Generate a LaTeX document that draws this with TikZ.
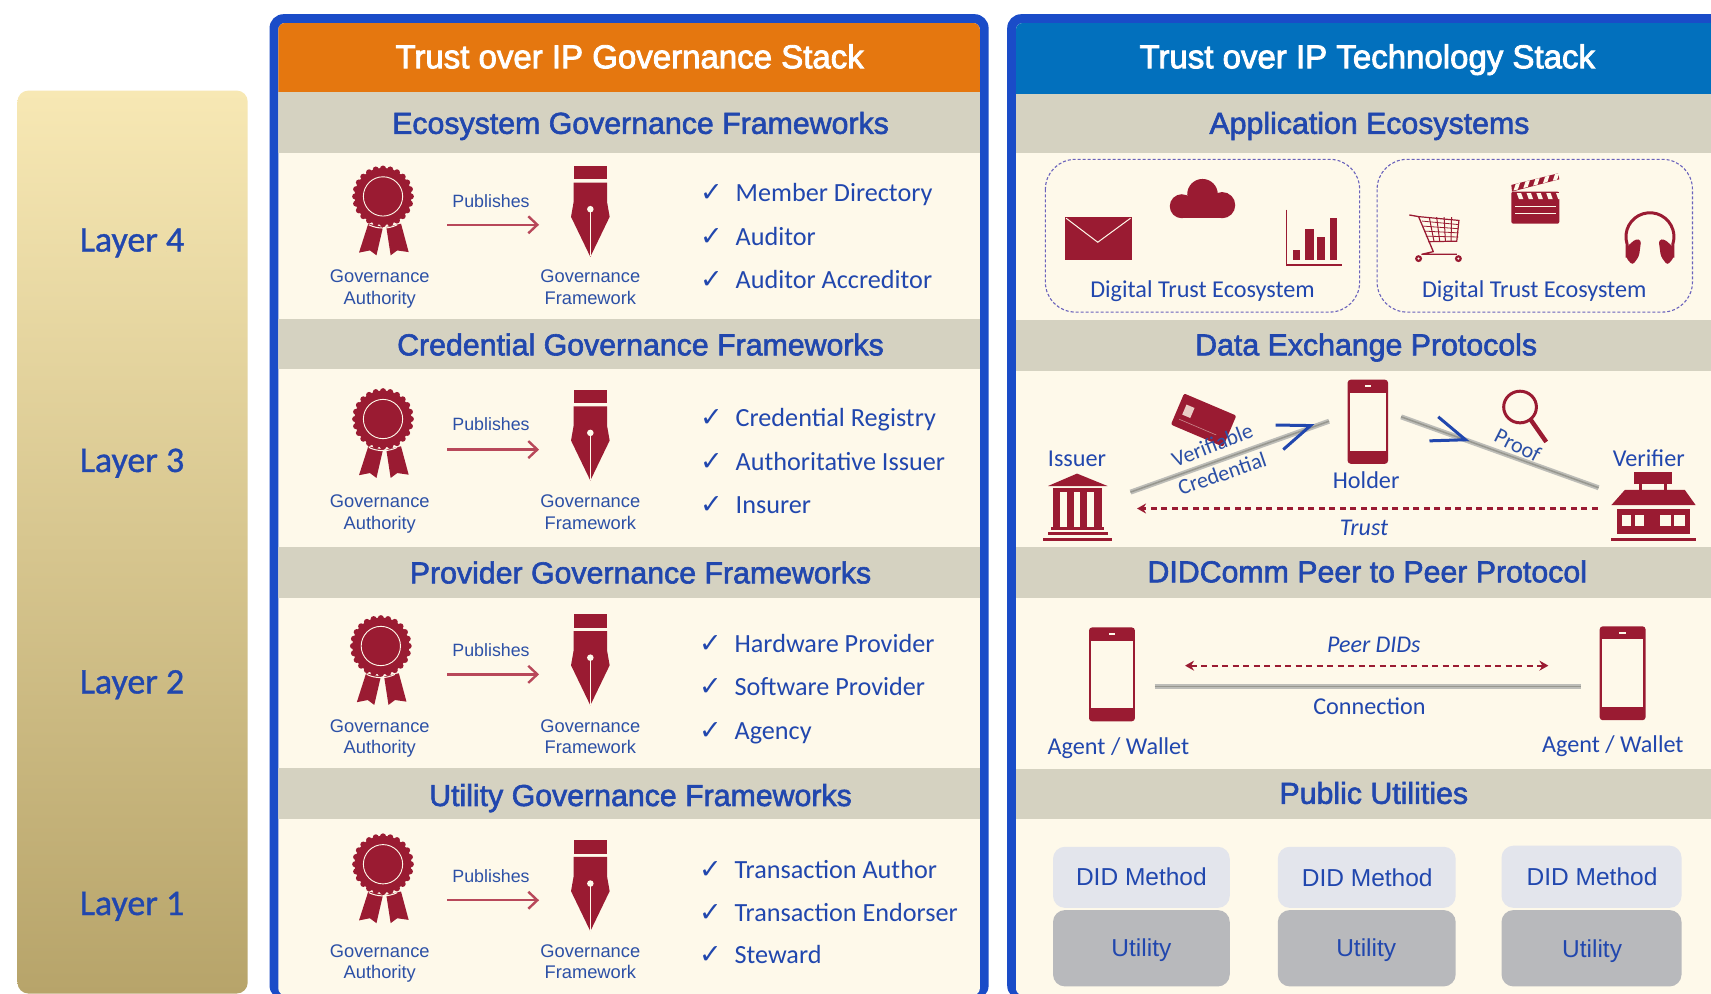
\documentclass[tikz,border=0pt]{standalone}
\usepackage{fontspec}
\setmainfont{Liberation Sans}
\newfontfamily\carl{Carlito}
\newfontfamily\carlb[FakeBold=1]{Carlito}
\newfontfamily\dejav{DejaVu Sans}
\newfontfamily\emb[FakeBold=2.6]{Liberation Sans}
\newfontfamily\embsec[FakeBold=2]{Liberation Sans}
\usetikzlibrary{arrows.meta}
\definecolor{brick}{HTML}{9A1B32}
\definecolor{pubred}{HTML}{B8485A}
\definecolor{inkblue}{HTML}{2147AE}
\definecolor{txtblue}{HTML}{2C50A6}
\definecolor{frameblue}{HTML}{1A4CC8}
\definecolor{bandgrey}{HTML}{D5D2C1}
\definecolor{creambg}{HTML}{FEF9EA}
\definecolor{orangehd}{HTML}{E5770F}
\definecolor{bluehd}{HTML}{0270BD}
\definecolor{didbox}{HTML}{E3E5EC}
\definecolor{utilbox}{HTML}{B8B9BC}
\definecolor{railgrey}{HTML}{BDBDB8}
\definecolor{raildark}{HTML}{97978F}
\definecolor{dashviolet}{HTML}{6A62BC}
\tikzset{
  titlehead/.style={text=white,font=\emb\fontsize{33}{36}\selectfont,inner sep=0pt,text height=23pt,text depth=0pt},
  sectitle/.style={text=inkblue,font=\embsec\fontsize{30.3}{32}\selectfont,inner sep=0pt,text height=21pt,text depth=0pt},
  sectband/.style={fill=bandgrey},
  lyrtxt/.style={text=inkblue,font=\carlb\fontsize{36}{38}\selectfont,inner sep=0pt,text height=23pt,text depth=0pt},
  itemtxt/.style={text=inkblue,font=\carl\fontsize{26.2}{30}\selectfont,inner sep=0pt,anchor=west,text height=17pt,text depth=0pt},
  chktxt/.style={text=inkblue,font=\dejav\fontsize{27}{28}\selectfont,inner sep=0pt},
  smalltxt/.style={text=txtblue,font=\fontsize{18.3}{21.4}\selectfont,inner sep=0pt,align=center},
  disclabel/.style={text=inkblue,font=\carl\fontsize{24.2}{28}\selectfont,inner sep=0pt,text height=16pt,text depth=0pt},
  tiltlabel/.style={text=txtblue,font=\carl\fontsize{22}{26}\selectfont,inner sep=0pt,text height=15pt,text depth=0pt},
  italabel/.style={text=inkblue,font=\carl\itshape\fontsize{24}{26}\selectfont,inner sep=0pt,text height=15pt,text depth=0pt},
  boxtxt/.style={text=inkblue,font=\fontsize{24.5}{28}\selectfont,inner sep=0pt,text height=17pt,text depth=0pt},
  ecobox/.style={draw=dashviolet,line width=1.1pt,dash pattern=on 3pt off 2pt,rounded corners=30pt},
  railline/.style={line width=5pt,draw=railgrey},
  raildk/.style={line width=1.5pt,draw=raildark},
  chev/.style={draw=inkblue,line width=3pt,miter limit=10},
  pubarrow/.style={draw=pubred,line width=2.4pt,-{Straight Barb[length=9pt,width=17pt,line width=2.4pt]}},
  dasharrow/.style={draw=brick,line width=2.2pt,dash pattern=on 6pt off 4.5pt},
}
\newcommand{\rosetteicon}[2]{%
  \begin{scope}[shift={(#1,#2)}]
    \fill[brick] (-13.5,25)--(0,28)--(-6,54)--(-12,49.5)--(-22,51.5)--cycle;
    \fill[brick] (3,28)--(16.5,25)--(23.5,51)--(13,49.5)--(7,54)--cycle;
    \foreach \a in {0,15,...,345}{\fill[brick] (\a:25.5) circle (2.8);}
    \fill[brick] (0,0) circle (26);
    \draw[creambg,line width=.9pt] (0,0) circle (18);
    \draw[creambg,line width=1pt] (-13,26) .. controls (-5,30) and (5,30) .. (13,26);
  \end{scope}}
\newcommand{\penicon}[2]{%
  \begin{scope}[shift={(#1,#2)}]
    \fill[brick] (-15.3,0) rectangle (15.3,12.2);
    \fill[brick] (-15.3,15.3)--(15.3,15.3)--(15.3,33)--(17.7,46.7)--(0,83.4)--(-17.7,46.7)--(-15.3,33)--cycle;
    \fill[creambg] (0,39.7) circle (3);
    \draw[creambg,line width=1pt] (0,39.7)--(0,83);
  \end{scope}}
% id, rosette x, rosette y, pen top, label y, publishes y, arrow y
\newcommand{\govrow}[7]{%
  \rosetteicon{#2}{#3}
  \penicon{541}{#4}
  \node[smalltxt] (#1auth) at (348,#5) {Governance\\Authority};
  \node[smalltxt] (#1fw) at (541,#5) {Governance\\Framework\vphantom{y}};
  \node[smalltxt,font=\fontsize{17.8}{20}\selectfont] (#1pub) at (450,#6) {Publishes};
  \coordinate (#1from) at (410,#7);
  \coordinate (#1to) at (494,#7);
  \draw[pubarrow] (#1from) -- (#1to);}
\newcommand{\chkitem}[5]{%
  \node[chktxt] (#1c) at (#2,#3) {✓};
  \node[itemtxt] (#1t) at (#4,#3) {#5};}
\newcommand{\phoneicon}[4]{%
  \fill[brick,rounded corners=3pt] (#1,#2) rectangle (#3,#4);
  \fill[creambg] ({#1+2},{#2+12}) rectangle ({#3-2},{#4-12});
  \fill[creambg] ({(#1+#3)/2-3},{#2+5}) rectangle ({(#1+#3)/2+3},{#2+7});}
\begin{document}
\begin{tikzpicture}[x=1.0912pt,y=-1.0912pt]
\useasboundingbox (0,0) rectangle (1568,910.9);
\fill[white] (0,0) rectangle (1568,910.9);
% layer column
\shade[rounded corners=11pt,top color={rgb,255:red,247;green,232;blue,180},bottom color={rgb,255:red,183;green,164;blue,106}] (16,83) rectangle (227,910.5);
\node[lyrtxt] (l4) at (121,220) {Layer 4};
\node[lyrtxt] (l3) at (121,422) {Layer 3};
\node[lyrtxt] (l2) at (121,625) {Layer 2};
\node[lyrtxt] (l1) at (121,828) {Layer 1};
% left panel
\fill[frameblue,rounded corners=14pt] (247,13) rectangle (906,916);
\begin{scope}
  \clip[rounded corners=7pt] (255,21) rectangle (898,912);
  \fill[creambg] (255,21) rectangle (898,912);
  \fill[orangehd] (255,21) rectangle (898,84);
  \fill[sectband] (255,84) rectangle (898,140);
  \fill[sectband] (255,292) rectangle (898,338);
  \fill[sectband] (255,501) rectangle (898,548);
  \fill[sectband] (255,704) rectangle (898,751);
\end{scope}
\node[titlehead] (lhead) at (577,52) {Trust over IP Governance Stack};
\node[sectitle] (s1) at (587,113) {Ecosystem Governance Frameworks};
\node[sectitle] (s2) at (587,316) {Credential Governance Frameworks};
\node[sectitle] (s3) at (587,525) {Provider Governance Frameworks};
\node[sectitle] (s4) at (587,729) {Utility Governance Frameworks};
\govrow{ra}{351}{180}{152}{265}{184}{206}
\govrow{rb}{351}{384}{357}{471}{389}{412}
\govrow{rc}{349}{592}{563}{677}{596}{618}
\govrow{rd}{351}{792}{770}{883}{803}{825}
\chkitem{a1}{652}{177}{674}{Member Directory}
\chkitem{a2}{652}{217}{674}{Auditor}
\chkitem{a3}{652}{257}{674}{Auditor Accreditor}
\chkitem{b1}{652}{383}{674}{Credential Registry}
\chkitem{b2}{652}{423}{674}{Authoritative Issuer}
\chkitem{b3}{652}{463}{674}{Insurer}
\chkitem{c1}{651}{590}{673}{Hardware Provider}
\chkitem{c2}{651}{629.5}{673}{Software Provider}
\chkitem{c3}{651}{670}{673}{Agency}
\chkitem{d1}{651}{797}{673}{Transaction Author}
\chkitem{d2}{651}{836.5}{673}{Transaction Endorser}
\chkitem{d3}{651}{875}{673}{Steward}
% right panel
\fill[frameblue,rounded corners=14pt] (923,13) rectangle (1600,916);
\begin{scope}
  \clip[rounded corners=7pt] (931,21) rectangle (1590,912);
  \fill[creambg] (931,21) rectangle (1590,912);
  \fill[bluehd] (931,21) rectangle (1590,86);
  \fill[sectband] (931,86) rectangle (1590,140);
  \fill[sectband] (931,293) rectangle (1590,340);
  \fill[sectband] (931,501) rectangle (1590,548);
  \fill[sectband] (931,705) rectangle (1590,751);
\end{scope}
\node[titlehead] (rhead) at (1253,52) {Trust over IP Technology Stack};
\node[sectitle] (t1) at (1255,113) {Application Ecosystems};
\node[sectitle] (t2) at (1252,316) {Data Exchange Protocols};
\node[sectitle] (t3) at (1253,524) {DIDComm Peer to Peer Protocol};
\node[sectitle] (t4) at (1259,727) {Public Utilities};
% ecosystems
\draw[ecobox] (958,146) rectangle (1246,286);
\draw[ecobox] (1262,146) rectangle (1551,286);
\node[disclabel] (e1) at (1102,265) {Digital Trust Ecosystem};
\node[disclabel] (e2) at (1406,265) {Digital Trust Ecosystem};
% envelope
\fill[brick] (976,199) rectangle (1037,238);
\draw[creambg,line width=1pt] (977,200)--(1006,222)--(1036,200);
% cloud
\fill[brick] (1102,178) circle (14);
\fill[brick] (1083,189) circle (11);
\fill[brick] (1120,188) circle (12);
\fill[brick] (1084,186) rectangle (1120,200);
% chart
\draw[brick,line width=1.6pt] (1179,192)--(1179,243)--(1230,243);
\fill[brick] (1185,229) rectangle (1191,238);
\fill[brick] (1196,210) rectangle (1204,238);
\fill[brick] (1207,217) rectangle (1214,238);
\fill[brick] (1219,200) rectangle (1225,238);
% cart
\draw[brick,line width=1.3pt,line join=round] (1291.5,197)--(1300,198.5)--(1313.5,230.6)--(1303,233)--(1335,233);
\draw[brick,line width=1.2pt] (1300,198.5)--(1337,202)--(1335,221)--(1309,221.5);
\foreach \t in {0.2,0.4,0.6,0.8}{
  \draw[brick,line width=1pt] ({1303+34*\t},199)--({1309+26*\t},221.5);
  \draw[brick,line width=.8pt] ({1302+6*\t},{198+23*\t})--(1336.5,{202+19*\t});}
\fill[brick] (1300,237) circle (3.2); \fill[creambg] (1300,237) circle (1.1);
\fill[brick] (1336.5,237) circle (3.2); \fill[creambg] (1336.5,237) circle (1.1);
% clapper
\fill[brick,rounded corners=2pt] (1385,175.6) rectangle (1429,205);
\fill[brick] (1385,169.5)--(1428,158.8)--(1429,164.3)--(1385.6,175.6)--cycle;
\foreach \d in {0,9,18,27,36}{
  \fill[creambg] ({1389+\d},{168.6-\d*.25})--({1393+\d},{167.6-\d*.25})--({1391+\d},{173.6-\d*.25})--({1387+\d},{174.6-\d*.25})--cycle;
  \fill[creambg] ({1390+\d},177)--({1394+\d},177)--({1396+\d},182.5)--({1392+\d},182.5)--cycle;}
\fill[creambg] (1388,188.4) rectangle (1426,189.4);
\fill[creambg] (1388,195) rectangle (1426,196);
% headphones
\draw[brick,line width=3pt] (1491,236)--(1491,223.4) arc[start angle=163,end angle=377,radius=22]--(1533,236);
\fill[brick,rounded corners=3pt] (1490,236)--(1491,226)--(1499,219)--(1504,220)--(1502,235)--(1496,243)--cycle;
\fill[brick,rounded corners=3pt] (1534,236)--(1533,226)--(1525,219)--(1520,220)--(1522,235)--(1528,243)--cycle;
% data exchange
\coordinate (vcA) at (1036,451); \coordinate (vcB) at (1218,386);
\coordinate (prA) at (1284,382); \coordinate (prB) at (1465,447);
\draw[railline] (vcA)--(vcB); \draw[raildk] (vcA)--(vcB);
\draw[railline] (prA)--(prB); \draw[raildk] (prA)--(prB);
\draw[chev] (1169,389.5)--(1201,390)--(1176,412);
\draw[chev] (1318,382)--(1343,403)--(1310,404);
% card
\begin{scope}[shift={(1103,385)},rotate=-23]
  \fill[brick,rounded corners=2pt] (-26,-15.5) rectangle (26,15.5);
  \fill[creambg!80!brick] (-20,-7) rectangle (-12,3);
  \draw[creambg!50!brick,line width=.6pt] (-21,8)--(16,8);
\end{scope}
\node[tiltlabel,rotate=21] (vc1) at (1111,408) {Verifiable};
\node[tiltlabel,rotate=19] (vc2) at (1120,434) {Credential};
\node[tiltlabel,rotate=-27] (proof) at (1391,408) {Proof};
% magnifier
\draw[brick,line width=3pt] (1393,373) ellipse (15 and 14.5);
\draw[brick,line width=4.4pt] (1403,385)--(1417,405);
\phoneicon{1235}{348}{1272}{425}
\node[disclabel] (holder) at (1252,440) {Holder};
\node[disclabel] (issuer) at (987,420) {Issuer};
\node[disclabel] (verifier) at (1511,420) {Verifier};
% bank
\fill[brick] (987,434)--(1015,445.4)--(960.4,445.4)--cycle;
\fill[brick] (965,447.5) rectangle (1010,450.5);
\foreach \c in {965,977.5,990,1003}{\fill[brick] (\c,450) rectangle ({\c+6.5},484);}
\fill[brick] (963,483) rectangle (1012,486);
\fill[brick] (960,487.5) rectangle (1015,490.5);
\fill[brick] (956,493) rectangle (1019,496);
% shop
\fill[brick] (1497,433) rectangle (1532,443.5);
\fill[brick] (1502,443) rectangle (1504.5,450);
\fill[brick] (1525,443) rectangle (1527.5,450);
\fill[brick] (1489,449)--(1544,449)--(1554,463)--(1476.6,463)--cycle;
\fill[brick] (1482,466) rectangle (1549,489);
\fill[creambg] (1486,472) rectangle (1495,482);
\fill[creambg] (1498,472) rectangle (1507,482);
\fill[creambg] (1521,472) rectangle (1531,482);
\fill[creambg] (1534,472) rectangle (1544,482);
\fill[brick] (1476,493) rectangle (1554,496);
% trust
\coordinate (trS) at (1464,466); \coordinate (trE) at (1042,466);
\draw[dasharrow,-{Stealth[length=9pt,width=10pt]}] (trS)--(trE);
\node[italabel] (trust) at (1250,484) {Trust};
% didcomm
\phoneicon{998}{575}{1040}{661}
\phoneicon{1466}{574}{1508}{660}
\node[disclabel] (ag1) at (1025,684) {Agent / Wallet};
\node[disclabel] (ag2) at (1478,682) {Agent / Wallet};
\coordinate (pdL) at (1086,610); \coordinate (pdR) at (1419,610);
\draw[dasharrow,{Stealth[length=9pt,width=10pt]}-{Stealth[length=9pt,width=10pt]}] (pdL)--(pdR);
\node[italabel] (peer) at (1259,591) {Peer DIDs};
\coordinate (cnL) at (1058,629); \coordinate (cnR) at (1449,629);
\draw[railline] (cnL)--(cnR); \draw[raildk] (cnL)--(cnR);
\node[disclabel] (conn) at (1255,647) {Connection};
% utilities
\fill[didbox,rounded corners=12pt] (965,776) rectangle (1127,832);
\fill[didbox,rounded corners=12pt] (1171,776) rectangle (1334,832);
\fill[didbox,rounded corners=12pt] (1376,775) rectangle (1541,832);
\fill[utilbox,rounded corners=12pt] (965,834) rectangle (1127,904);
\fill[utilbox,rounded corners=12pt] (1171,834) rectangle (1334,904);
\fill[utilbox,rounded corners=12pt] (1376,834) rectangle (1541,904);
\node[boxtxt] (d1) at (1046,804) {DID Method};
\node[boxtxt] (d2) at (1253,805) {DID Method};
\node[boxtxt] (d3) at (1459,804) {DID Method};
\node[boxtxt] (u1) at (1046,869) {Utility};
\node[boxtxt] (u2) at (1252,869) {Utility};
\node[boxtxt] (u3) at (1459,870) {Utility};
\end{tikzpicture}
\end{document}
